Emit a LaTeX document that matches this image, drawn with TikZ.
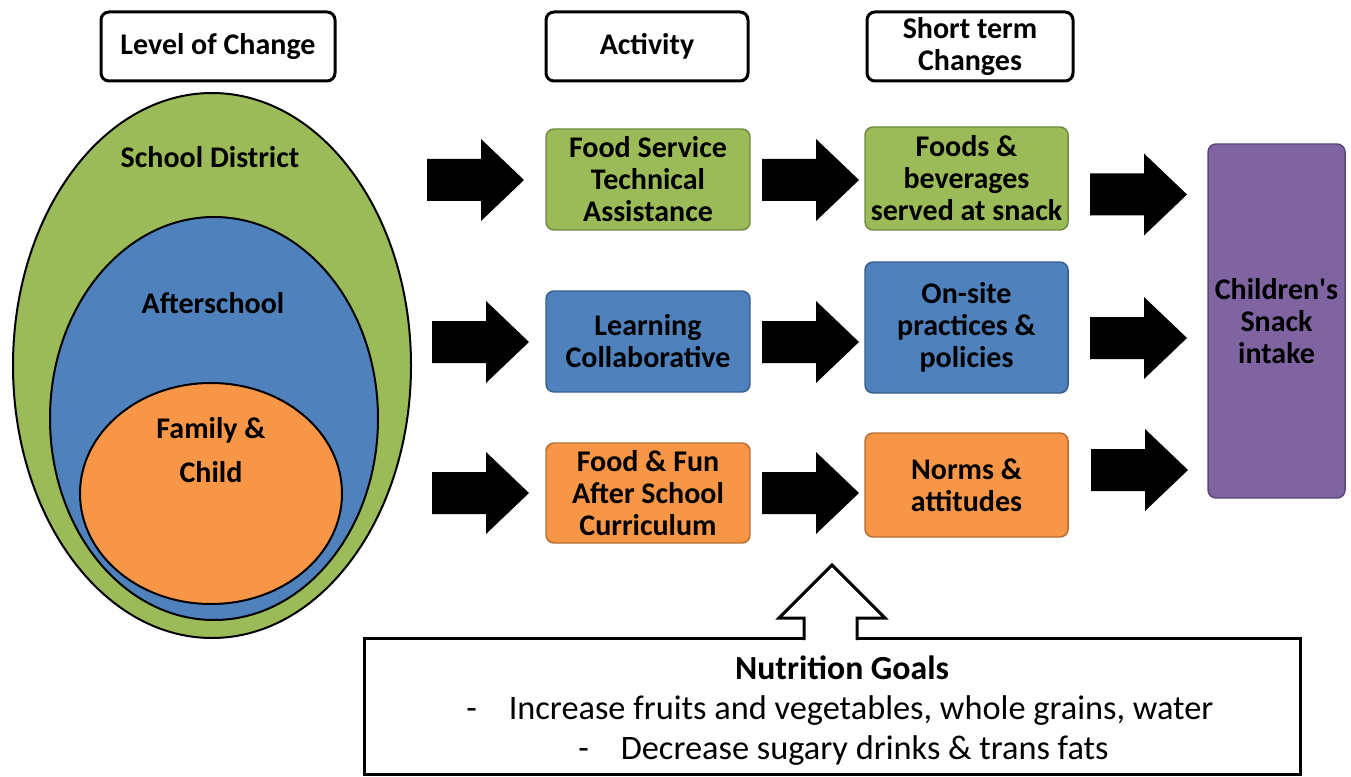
\documentclass[tikz,border=0pt]{standalone}
\usepackage{fontspec}
\setmainfont{Carlito}

\definecolor{grn}{RGB}{155,187,89}
\definecolor{grnline}{RGB}{113,137,63}
\definecolor{blu}{RGB}{79,129,189}
\definecolor{bluline}{RGB}{56,93,138}
\definecolor{orn}{RGB}{247,150,70}
\definecolor{ornline}{RGB}{182,109,49}
\definecolor{prp}{RGB}{128,100,162}
\definecolor{prpline}{RGB}{92,71,118}

% black block arrow, tail centre at (#1,#2)
\newcommand{\blockarrow}[2]{%
  \fill (#1,#2) ++(0,-21) -- ++(54,0) -- ++(0,-20) -- ++(43,41) -- ++(-43,41) -- ++(0,-20) -- ++(-54,0) -- cycle;}

\begin{document}
\begin{tikzpicture}[x=0.75pt,y=0.75pt,yscale=-1,xscale=1,
  lbl/.style={font=\bfseries\fontsize{22.5}{24}\selectfont, align=center, inner sep=0pt},
  head/.style={lbl, draw, line width=2.25pt, rounded corners=6pt, fill=white, minimum height=51.75pt},
  box/.style={lbl, line width=1.1pt, rounded corners=6pt, minimum width=153pt},
  greenbox/.style={box, fill=grn, draw=grnline},
  bluebox/.style={box, fill=blu, draw=bluline},
  orangebox/.style={box, fill=orn, draw=ornline},
  goaltext/.style={font=\fontsize{25.75}{30}\selectfont, inner sep=0pt}]
\useasboundingbox (0,0) rectangle (1351,777);

% column headings
\node [head, minimum width=175.5pt] (level) at (218,46.5) {Level of Change};
\node [head, minimum width=151.5pt] (activity) at (647,46.5) {Activity};
\node [head, minimum width=154.5pt] (short) at (970,46.5) {Short term\\Changes};

% nested levels
\draw [line width=1.5pt, fill=grn] (212,365.5) ellipse (199 and 272.5);
\draw [line width=1.5pt, fill=blu] (214,418.5) ellipse (164 and 201.5);
\draw [line width=1.5pt, fill=orn] (211,493.5) ellipse (131 and 110.5);
\node [lbl] (district) at (210,157) {School District};
\node [lbl] (afterschool) at (213,303) {Afterschool};
\node [lbl, font=\bfseries\fontsize{22.5}{33}\selectfont] (family) at (211,450) {Family \&\\Child};

% activities
\node [greenbox, minimum height=75.75pt] (fsta) at (648,179.5) {Food Service\\Technical\\Assistance};
\node [bluebox, minimum height=75.75pt] (lc) at (648,341.5) {Learning\\Collaborative};
\node [orangebox, minimum height=75pt] (ffas) at (648,493) {Food \& Fun\\After School\\Curriculum};

% short term changes
\node [greenbox, minimum width=152.25pt, minimum height=77.25pt] (fbs) at (966.5,178.5) {Foods \&\\beverages\\served at snack};
\node [bluebox, minimum width=152.25pt, minimum height=98.25pt] (osp) at (966.5,327.5) {On-site\\practices \&\\policies};
\node [orangebox, minimum width=152.25pt, minimum height=78pt] (na) at (966.5,485) {Norms \&\\attitudes};

% outcome
\node [box, fill=prp, draw=prpline, minimum width=102.75pt, minimum height=265.5pt] (csi) at (1276.5,321) {Children\textquotesingle s\\Snack\\intake};

% block arrows
\blockarrow{427}{180}
\blockarrow{762}{180}
\blockarrow{1090}{194.5}
\blockarrow{432}{342}
\blockarrow{762}{342}
\blockarrow{1090}{338}
\blockarrow{432}{493}
\blockarrow{762}{493}
\blockarrow{1091}{470}

% nutrition goals
\node [draw, line width=2.25pt, minimum width=702pt, minimum height=102pt] (goals) at (832,706) {};
\draw [line width=2.25pt, fill=white, line join=miter] (804,640) -- (804,618) -- (779,618) -- (832,565) -- (885,618) -- (857,618) -- (857,640);
\node [goaltext, font=\bfseries\fontsize{25.3}{30}\selectfont] (goaltitle) at (842,668) {Nutrition Goals};
\node [goaltext, anchor=west] (goalone) at (466,711) {-\hspace{24pt}Increase fruits and vegetables, whole grains, water};
\node [goaltext, anchor=west] (goaltwo) at (578,751) {-\hspace{24pt}Decrease sugary drinks \& trans fats};

\end{tikzpicture}
\end{document}
